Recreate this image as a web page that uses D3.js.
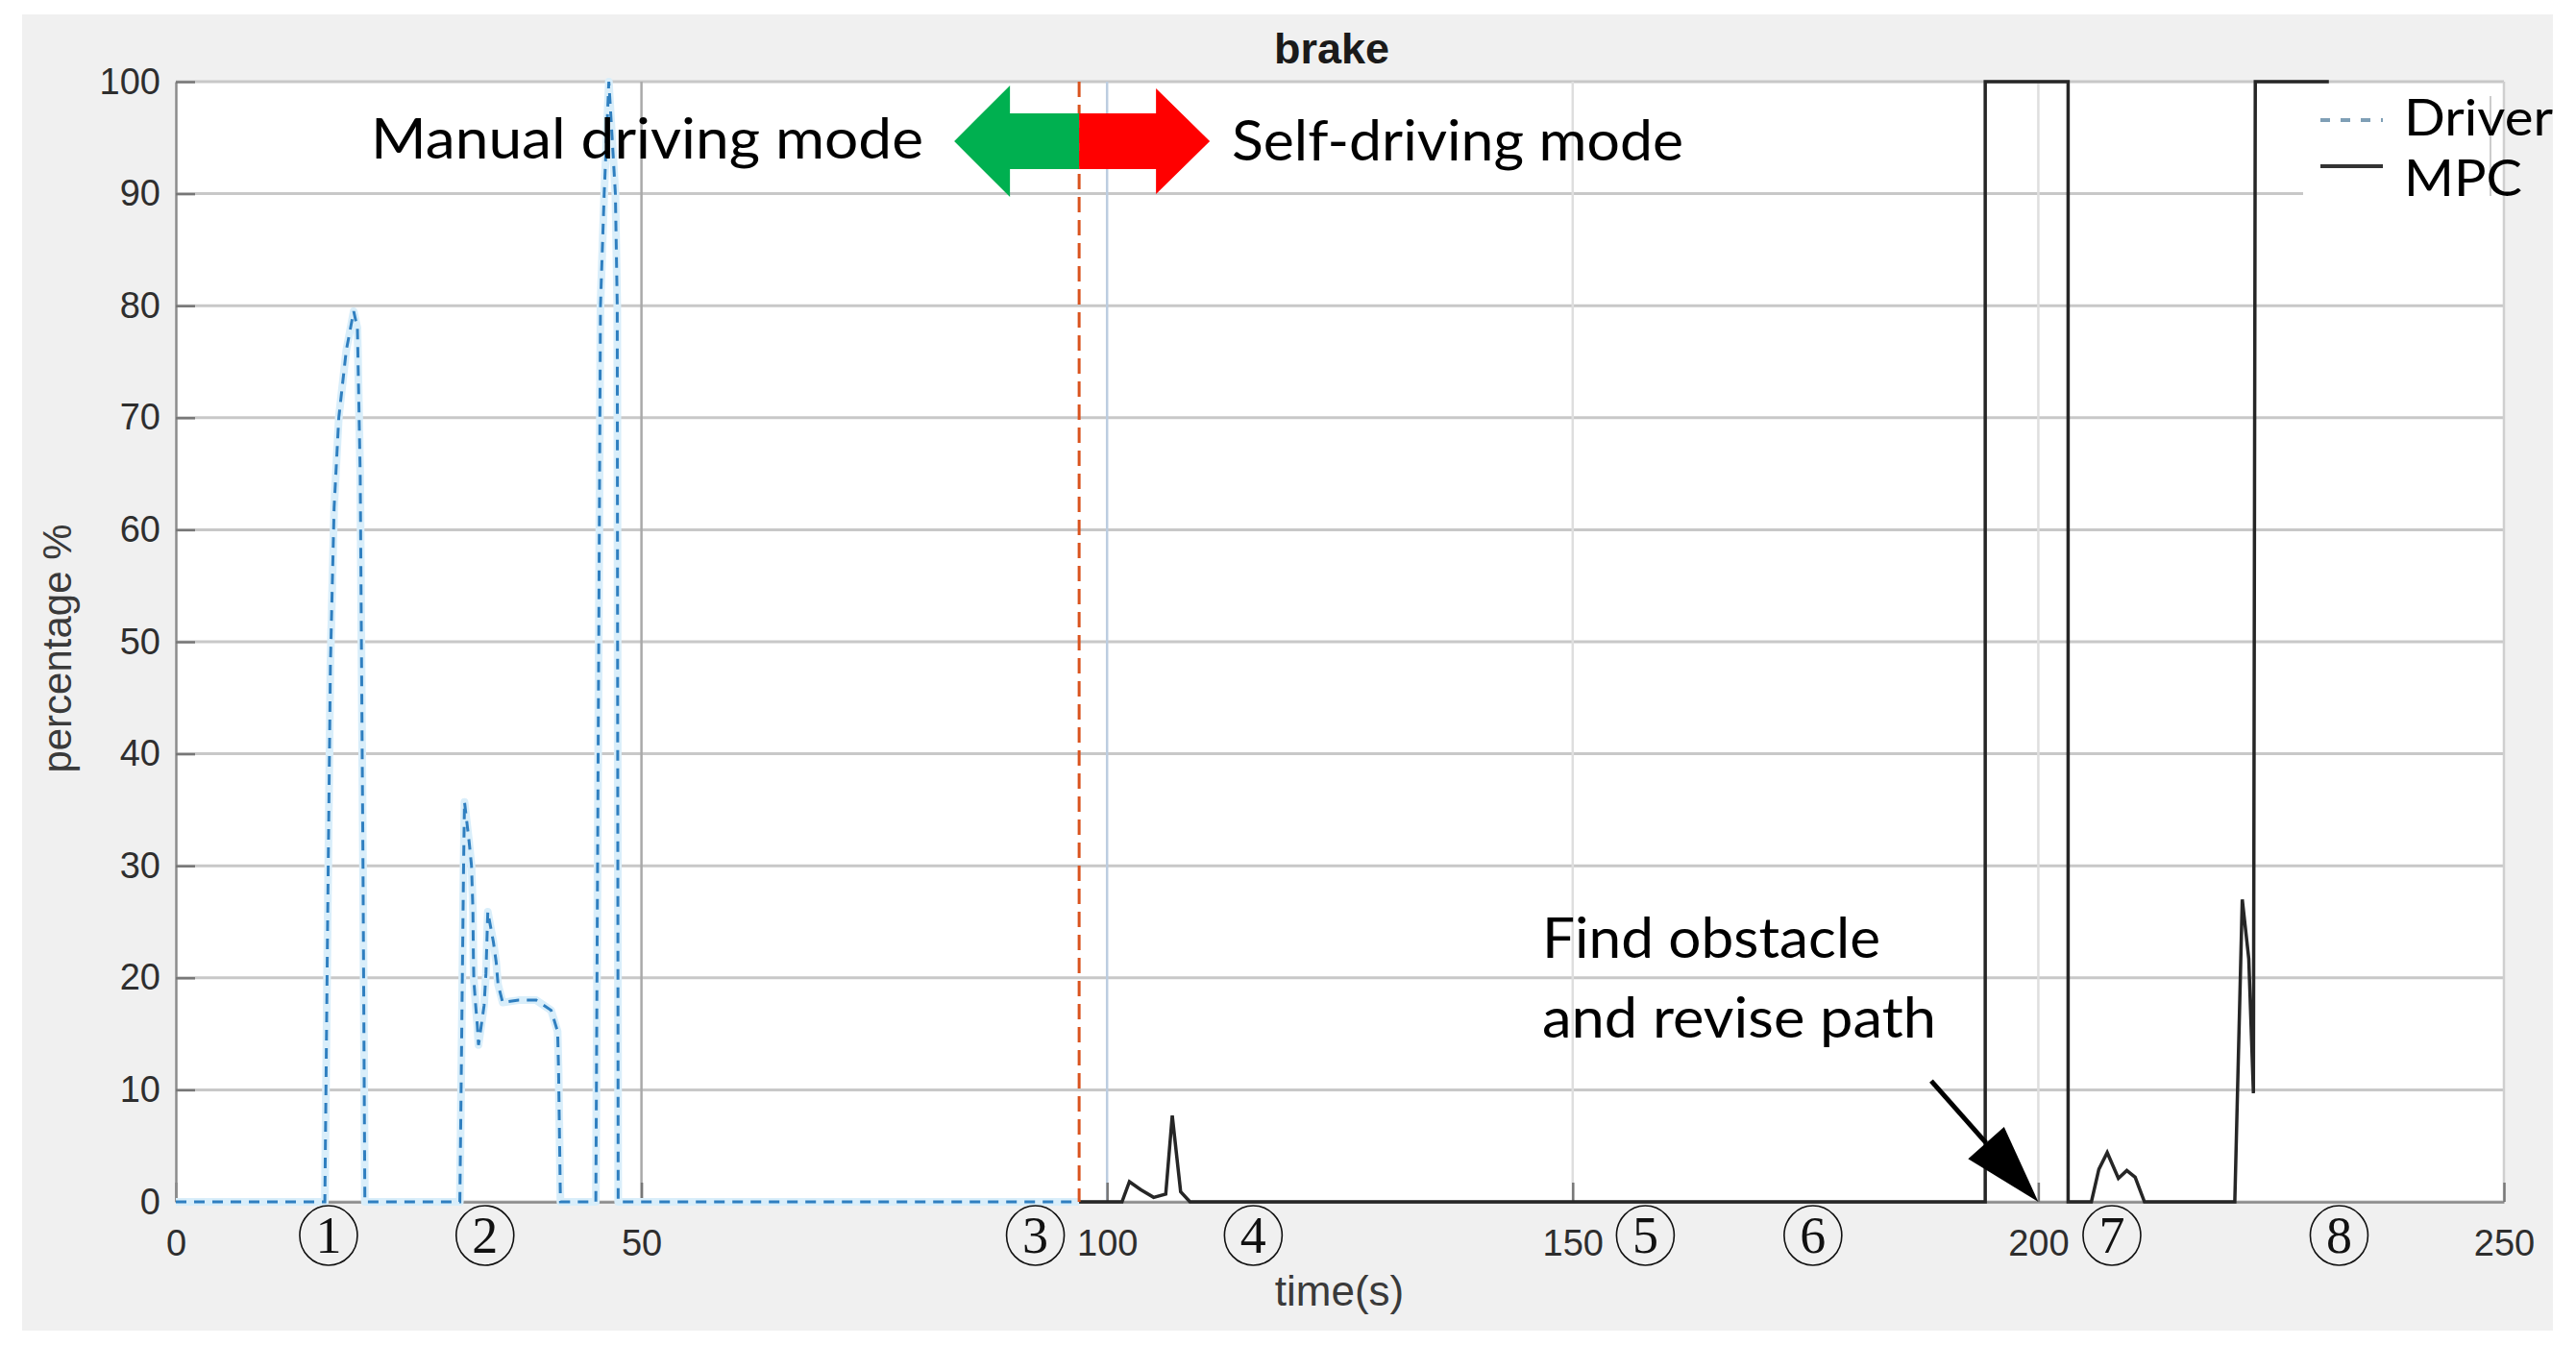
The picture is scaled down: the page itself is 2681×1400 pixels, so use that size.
<!DOCTYPE html>
<html>
<head>
<meta charset="utf-8">
<script src="https://cdn.jsdelivr.net/npm/d3@7"></script>
<style>
body{margin:0;background:#fff;}
svg{display:block;}
</style>
</head>
<body>
<svg id="chart"></svg>
<script>
// brake pedal %, driver vs MPC controller

var driverTime  = [0, 16.0, 16.3, 16.6, 17.0, 17.5, 18.3, 19.1, 19.5, 19.8, 20.1, 20.3,
                   30.5, 30.9, 31.0, 31.5, 31.75, 31.9, 31.95, 32.0, 32.2, 32.37, 32.5,
                   33.1, 33.3, 33.5, 34.1, 34.4, 34.6, 35.1, 36.8, 38.7, 40.3, 41.0, 41.1, 41.3,
                   45.1, 45.6, 46.0, 46.5, 47.2, 47.4, 47.5, 97]
var driverBrake = [0, 0, 25, 48, 62, 70, 76, 79.5, 78, 65, 30, 0,
                   0, 30, 35.7, 32.1, 30, 26.1, 22.1, 19.8, 17.5, 15.8, 14,
                   17.5, 20.4, 25.9, 23.2, 21.4, 19.4, 17.8, 18, 18, 17.1, 15.2, 11.8, 0,
                   0, 80, 90, 100, 90, 80, 0, 0]

var mpcTime  = [97, 101.6, 102.4, 103.6, 105.0, 106.3, 107.0, 107.9, 108.9,
                194.3, 194.3, 203.2, 203.2, 205.7, 206.5, 207.4, 208.6, 209.5, 210.4, 211.4,
                221.1, 221.9, 222.6, 223.1, 223.3, 231.2]
var mpcBrake = [0, 0, 1.8, 1.1, 0.4, 0.7, 7.7, 0.9, 0,
                0, 100, 100, 0, 0, 2.9, 4.4, 2.1, 2.8, 2.2, 0,
                0, 27, 21.7, 9.7, 100, 100]

var xTicks = [0, 50, 100, 150, 200, 250]
var yTicks = [0, 10, 20, 30, 40, 50, 60, 70, 80, 90, 100]
var xGrid = [50, 100, 150, 200]

var stageNames = ["1", "2", "3", "4", "5", "6", "7", "8"]
var stageTime  = [16.4, 33.2, 92.3, 115.7, 157.8, 175.8, 207.9, 232.3]

var seriesNames = ["Driver", "MPC"]
var switchTime = 97

var screen = {width:2681, height:1400}
var margins = {top:85, right:75, bottom:149, left:183}
var width = screen.width - margins.left - margins.right
var height = screen.height - margins.top - margins.bottom

var svg = d3.select("#chart")
    .attr("width", screen.width)
    .attr("height", screen.height)

svg.append("rect").attr("width", screen.width).attr("height", screen.height).attr("fill", "#fff")
svg.append("rect")
    .attr("x", 23).attr("y", 15)
    .attr("width", 2634).attr("height", 1370)
    .attr("fill", "#f0f0f0")

var xScale = d3.scaleLinear().domain([0, 250]).range([0, width])
var yScale = d3.scaleLinear().domain([0, 100]).range([height, 0])

var graph = svg.append("g")
    .attr("id", "graph")
    .attr("transform", "translate(" + margins.left + "," + margins.top + ")")

graph.append("rect").attr("width", width).attr("height", height).attr("fill", "#fff")

// grid
graph.append("g").selectAll("line")
    .data(yTicks)
    .enter()
    .append("line")
    .attr("x1", 0).attr("x2", width)
    .attr("y1", function(d){ return yScale(d) })
    .attr("y2", function(d){ return yScale(d) })
    .attr("stroke", "#c8c8c8")
    .attr("stroke-width", 3)

graph.append("g").selectAll("line")
    .data(xGrid)
    .enter()
    .append("line")
    .attr("x1", function(d){ return xScale(d) })
    .attr("x2", function(d){ return xScale(d) })
    .attr("y1", 0).attr("y2", height)
    .attr("stroke", function(d){ return d == 50 ? "#a9a9a9" : (d == 100 ? "#bccde0" : "#dedede") })
    .attr("stroke-width", 2.5)

// right border
graph.append("line")
    .attr("x1", width).attr("x2", width).attr("y1", 0).attr("y2", height)
    .attr("stroke", "#cfcfcf").attr("stroke-width", 2.5)

// axes
var xAxis = d3.axisBottom(xScale).tickValues(xTicks).tickSizeInner(-20).tickSizeOuter(0).tickPadding(29)
var yAxis = d3.axisLeft(yScale).tickValues(yTicks).tickSizeInner(-20).tickSizeOuter(0).tickPadding(16)

var gx = graph.append("g").attr("transform", "translate(0," + height + ")").call(xAxis)
var gy = graph.append("g").call(yAxis)

;[gx, gy].forEach(function(g)
{
    g.select(".domain").attr("stroke", "#8c8c8c").attr("stroke-width", 2.5)
    g.selectAll(".tick line").attr("stroke", "#777").attr("stroke-width", 2.5)
    g.selectAll(".tick text")
        .attr("font-family", "Liberation Sans, Arial, sans-serif")
        .attr("font-size", 38)
        .attr("fill", "#2e2e2e")
})

// driver (dashed blue) with a faint halo like the jpeg blur
var line = d3.line()
    .x(function(d){ return xScale(d[0]) })
    .y(function(d){ return yScale(d[1]) })

var driverPts = d3.zip(driverTime, driverBrake)
var mpcPts = d3.zip(mpcTime, mpcBrake)

graph.append("path")
    .datum(driverPts)
    .attr("d", line)
    .attr("fill", "none")
    .attr("stroke", "#d9eefa")
    .attr("stroke-width", 8)
    .attr("stroke-linejoin", "round")

graph.append("path")
    .datum(driverPts)
    .attr("d", line)
    .attr("fill", "none")
    .attr("stroke", "#2f7fc0")
    .attr("stroke-width", 3)
    .attr("stroke-dasharray", "11,8")

graph.append("path")
    .datum(mpcPts)
    .attr("d", line)
    .attr("fill", "none")
    .attr("stroke", "#262626")
    .attr("stroke-width", 3.5)
    .attr("stroke-linejoin", "miter")

// switch line
graph.append("line")
    .attr("x1", xScale(switchTime)).attr("x2", xScale(switchTime))
    .attr("y1", yScale(100)).attr("y2", yScale(0))
    .attr("stroke", "#d9531e")
    .attr("stroke-width", 3)
    .attr("stroke-dasharray", "16,8")

// title + labels
svg.append("text")
    .attr("x", 1386).attr("y", 66)
    .attr("text-anchor", "middle")
    .attr("font-family", "Liberation Sans, Arial, sans-serif")
    .attr("font-weight", "bold")
    .attr("font-size", 45)
    .attr("fill", "#1a1a1a")
    .text("brake")

svg.append("text")
    .attr("x", 1394).attr("y", 1359)
    .attr("text-anchor", "middle")
    .attr("font-family", "Liberation Sans, Arial, sans-serif")
    .attr("font-size", 44)
    .attr("fill", "#3a3a3a")
    .text("time(s)")

svg.append("text")
    .attr("transform", "translate(74,675) rotate(-90)")
    .attr("text-anchor", "middle")
    .attr("font-family", "Liberation Sans, Arial, sans-serif")
    .attr("font-size", 42)
    .attr("fill", "#3a3a3a")
    .text("percentage %")

// legend
var calibri = "Lato, 'Open Sans', sans-serif"
var legend = svg.append("g").attr("id", "legend")
legend.append("rect")
    .attr("x", 2397).attr("y", 87).attr("width", 207).attr("height", 125)
    .attr("fill", "#fff")
legend.append("line")
    .attr("x1", 2592).attr("x2", 2592).attr("y1", 100).attr("y2", 204)
    .attr("stroke", "#bbb").attr("stroke-width", 1.5)
legend.append("line")
    .attr("x1", 2415).attr("x2", 2480).attr("y1", 125).attr("y2", 125)
    .attr("stroke", "#7f9fb6").attr("stroke-width", 4).attr("stroke-dasharray", "10,11")
legend.append("line")
    .attr("x1", 2415).attr("x2", 2480).attr("y1", 173).attr("y2", 173)
    .attr("stroke", "#333").attr("stroke-width", 4)

var addNote = function(parent, str, x, y, len, size)
{
    return parent.append("text")
        .attr("x", x).attr("y", y)
        .attr("font-family", calibri)
        .attr("font-size", size)
        .attr("fill", "#000")
        .attr("textLength", len)
        .attr("lengthAdjust", "spacingAndGlyphs")
        .text(str)
}

// slightly smaller so the two entries don't collide
addNote(legend, seriesNames[0], 2502, 141, 155, 52)
addNote(legend, seriesNames[1], 2502, 204, 123, 52)

addNote(svg, "Manual driving mode", 386, 165, 575, 58)
addNote(svg, "Self-driving mode", 1282, 167, 470, 58)
addNote(svg, "Find obstacle", 1605, 997, 352, 58)
addNote(svg, "and revise path", 1605, 1080, 410, 58)

// mode arrows around switch time
var cx = margins.left + xScale(switchTime)
var cy = 147
svg.append("polygon")
    .attr("points", [[0,-29],[-72,-29],[-72,-58],[-130,0],[-72,58],[-72,29],[0,29]]
        .map(function(p){ return (cx + p[0]) + "," + (cy + p[1]) }).join(" "))
    .attr("fill", "#00b050")
svg.append("polygon")
    .attr("points", [[0,-29],[80,-29],[80,-55],[136,0],[80,55],[80,29],[0,29]]
        .map(function(p){ return (cx + p[0]) + "," + (cy + p[1]) }).join(" "))
    .attr("fill", "#ff0000")

// obstacle arrow
var tail = [margins.left + xScale(188.5), margins.top + yScale(10.8)]
var tip = [margins.left + xScale(200), margins.top + yScale(0)]
var dx = tip[0] - tail[0], dy = tip[1] - tail[1]
var L = Math.sqrt(dx*dx + dy*dy)
var ux = dx / L, uy = dy / L
var headLen = 82, headHalf = 25
var base = [tip[0] - ux*headLen, tip[1] - uy*headLen]
svg.append("line")
    .attr("x1", tail[0]).attr("y1", tail[1])
    .attr("x2", base[0]).attr("y2", base[1])
    .attr("stroke", "#000").attr("stroke-width", 5)
svg.append("polygon")
    .attr("points", [
        tip,
        [base[0] - uy*headHalf, base[1] + ux*headHalf],
        [base[0] + uy*headHalf, base[1] - ux*headHalf]
    ].map(function(p){ return p[0] + "," + p[1] }).join(" "))
    .attr("fill", "#000")

// circled stage numbers under the axis
var stages = svg.append("g").selectAll("g")
    .data(d3.zip(stageNames, stageTime))
    .enter()
    .append("g")
    .attr("transform", function(d){ return "translate(" + (margins.left + xScale(d[1])) + ",1286)" })

stages.append("ellipse")
    .attr("rx", 30).attr("ry", 31)
    .attr("fill", "none")
    .attr("stroke", "#111")
    .attr("stroke-width", 1.6)

stages.append("text")
    .attr("y", 18)
    .attr("text-anchor", "middle")
    .attr("font-family", "Liberation Serif, 'Times New Roman', serif")
    .attr("font-size", 54)
    .attr("fill", "#111")
    .text(function(d){ return d[0] })
</script>
</body>
</html>
